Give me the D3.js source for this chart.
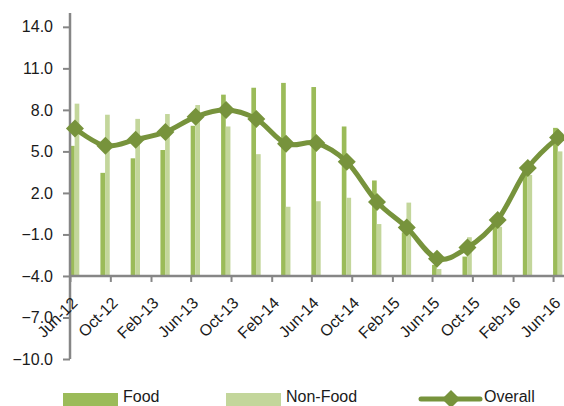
<!DOCTYPE html>
<html>
<head>
<meta charset="utf-8">
<script src="https://cdn.jsdelivr.net/npm/d3@7"></script>
<style>
  body { margin: 0; background: #fff; }
  svg text { font-family: "Liberation Sans", Arial, sans-serif; fill: #1a1a1a; }
</style>
</head>
<body>
<svg class="visual" width="564" height="406"></svg>
<script>
// Quarterly observations
const months = ["Jun-12","Sep-12","Dec-12","Mar-13","Jun-13","Sep-13","Dec-13","Mar-14","Jun-14",
                "Sep-14","Dec-14","Mar-15","Jun-15","Sep-15","Dec-15","Mar-16","Jun-16"];
const food    = [5.4, 3.45, 4.5, 5.1, 6.85, 9.1, 9.6, 9.95, 9.65, 6.8, 2.9, -0.85, -3.2, -2.6, 0.3, 3.9, 6.7];
const nonFood = [8.45, 7.65, 7.35, 7.7, 8.35, 6.8, 4.8, 1.0, 1.4, 1.65, -0.25, 1.3, -3.5, -1.2, -0.45, 3.3, 5.0];
const overall = [6.65, 5.4, 5.85, 6.4, 7.5, 8.0, 7.35, 5.55, 5.6, 4.25, 1.35, -0.5, -2.75, -1.95, 0.05, 3.8, 6.0];

// Axis labels
const xTickLabels = ["Jun-12","Oct-12","Feb-13","Jun-13","Oct-13","Feb-14","Jun-14",
                     "Oct-14","Feb-15","Jun-15","Oct-15","Feb-16","Jun-16"];
const yTicks = [-10, -7, -4, -1, 2, 5, 8, 11, 14];

const colors = {food: "#9bbb59", nonFood: "#c3d69b", overall: "#77933c", axis: "#868686"};

const svg = d3.select(".visual");
const parse = d3.timeParse("%b-%y");

// Plot area
const margin = {left: 70, right: 563, top: 13, bottom: 359};

const x = d3.scaleTime()
    .domain([parse("Jun-12"), d3.timeMonth.offset(parse("Jun-16"), 1)])
    .range([margin.left, margin.right]);

const y = d3.scaleLinear()
    .domain([-10, 15])
    .range([margin.bottom, margin.top]);

const baseVal = -4; // horizontal axis crosses here

// centre of a month on the date axis
function mid(label) {
    const d = parse(label);
    return (x(d) + x(d3.timeMonth.offset(d, 1))) / 2;
}
const monthW = x(parse("Jul-12")) - x(parse("Jun-12"));
const barW = monthW * 0.47;

const rows = months.map((m, i) => ({
    cx: mid(m), food: food[i], nonFood: nonFood[i], overall: overall[i]
}));

// Bars
const g = svg.append("g");
g.selectAll(".food")
    .data(rows)
    .join("rect")
    .attr("class", "food")
    .attr("x", d => d.cx - barW - 0.3)
    .attr("width", barW)
    .attr("y", d => y(Math.max(d.food, baseVal)))
    .attr("height", d => Math.abs(y(d.food) - y(baseVal)))
    .attr("fill", colors.food);

g.selectAll(".nonfood")
    .data(rows)
    .join("rect")
    .attr("class", "nonfood")
    .attr("x", d => d.cx - 0.3)
    .attr("width", barW)
    .attr("y", d => y(Math.max(d.nonFood, baseVal)))
    .attr("height", d => Math.abs(y(d.nonFood) - y(baseVal)))
    .attr("fill", colors.nonFood);

// Y axis
const yAxis = svg.append("g")
    .attr("transform", `translate(${margin.left},0)`)
    .call(d3.axisLeft(y).tickValues(yTicks).tickFormat(d3.format(".1f")).tickSize(7).tickPadding(10));
yAxis.select(".domain").attr("stroke", colors.axis).attr("stroke-width", 2.5)
    .attr("d", `M0,${margin.top}V${margin.bottom}`);
yAxis.selectAll(".tick line").attr("stroke", colors.axis).attr("stroke-width", 2);
yAxis.selectAll(".tick text").attr("font-size", 16).attr("fill", "#1a1a1a")
    .attr("font-family", "Liberation Sans, Arial, sans-serif");

// X axis at -4
const xTickDates = xTickLabels.map(parse);
const xAxis = svg.append("g")
    .attr("transform", `translate(0,${y(baseVal)})`)
    .call(d3.axisBottom(x).tickValues(xTickDates).tickFormat(d3.timeFormat("%b-%y")).tickSize(6).tickSizeOuter(0));
xAxis.select(".domain").attr("stroke", colors.axis).attr("stroke-width", 2.5)
    .attr("d", `M${margin.left},0H${margin.right + 1}`);
xAxis.selectAll(".tick line").attr("stroke", colors.axis).attr("stroke-width", 2);
xAxis.selectAll(".tick text")
    .attr("font-size", 16)
    .attr("fill", "#1a1a1a")
    .attr("font-family", "Liberation Sans, Arial, sans-serif")
    .attr("text-anchor", "end")
    .attr("dy", null)
    .attr("y", null)
    .attr("transform", "translate(8,28) rotate(-45)");

// Overall line
const line = d3.line()
    .x(d => d.cx)
    .y(d => y(d.overall))
    .curve(d3.curveCatmullRom.alpha(0));

svg.append("path")
    .datum(rows)
    .attr("d", line)
    .attr("fill", "none")
    .attr("stroke", colors.overall)
    .attr("stroke-width", 5)
    .attr("stroke-linejoin", "round");

const diamond = "M0,-9L9,0L0,9L-9,0Z";
svg.selectAll(".marker")
    .data(rows)
    .join("path")
    .attr("class", "marker")
    .attr("d", diamond)
    .attr("transform", d => `translate(${d.cx},${y(d.overall)})`)
    .attr("fill", colors.overall);

// Legend
const legend = svg.append("g");
legend.append("rect").attr("x", 63).attr("y", 393).attr("width", 55).attr("height", 14).attr("fill", colors.food);
legend.append("text").attr("x", 123).attr("y", 402).attr("font-size", 16).text("Food");
legend.append("rect").attr("x", 226).attr("y", 393).attr("width", 55).attr("height", 14).attr("fill", colors.nonFood);
legend.append("text").attr("x", 286).attr("y", 402).attr("font-size", 16).text("Non-Food");
legend.append("line").attr("x1", 421).attr("x2", 480).attr("y1", 399).attr("y2", 399)
    .attr("stroke", colors.overall).attr("stroke-width", 5).attr("stroke-linecap", "round");
legend.append("path").attr("d", diamond).attr("transform", "translate(451,399)").attr("fill", colors.overall);
legend.append("text").attr("x", 484).attr("y", 402).attr("font-size", 16).text("Overall");
</script>
</body>
</html>
